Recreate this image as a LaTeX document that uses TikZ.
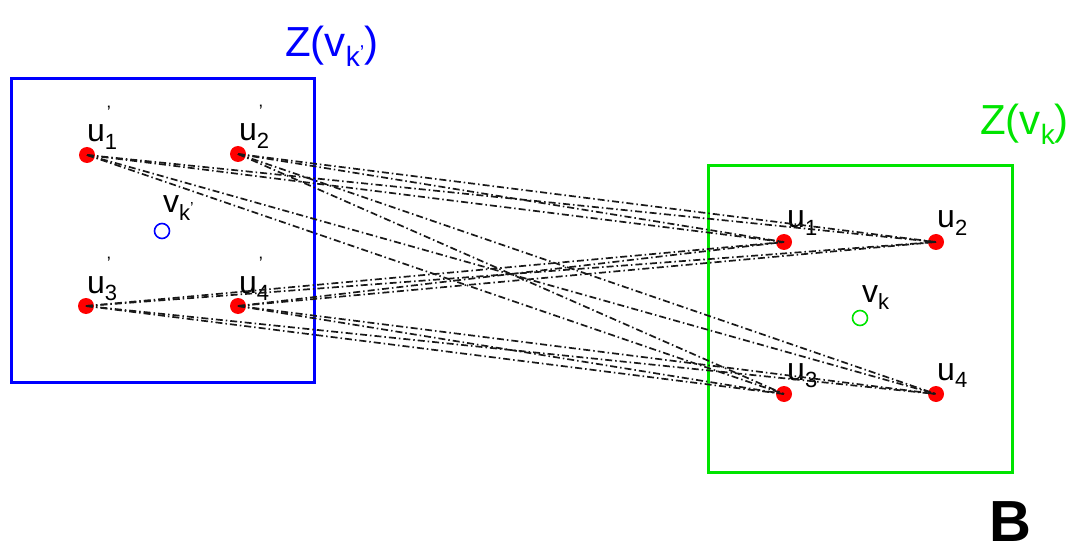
\documentclass[tikz,border=0pt]{standalone}
\usepackage{fontspec}
\setmainfont{Liberation Sans}
\definecolor{zgreen}{RGB}{0,228,0}
\definecolor{zblue}{RGB}{0,0,255}
% vertex label with a subscript
\newcommand\sublab[2]{#1\raisebox{-0.22em}{\fontsize{22}{22}\selectfont #2}}
% vertex label with a subscript and a prime set above it
\newcommand\primelab[2]{#1\makebox[0pt][l]{\raisebox{0.72em}{\fontsize{18}{18}\selectfont\hspace{0.1em}’}}\raisebox{-0.22em}{\fontsize{22}{22}\selectfont #2}}
\begin{document}
\begin{tikzpicture}[x=1pt,y=-1pt,
  vert/.style={circle,fill=red,inner sep=0pt,minimum size=16pt},
  hub/.style={circle,draw,line width=1.6pt,inner sep=0pt,minimum size=15pt},
  link/.style={line width=1.7pt,black!90,
    dash pattern=on 7pt off 3pt on 1.5pt off 3pt},
  zbox/.style={line width=3pt},
  lab/.style={anchor=base west,inner sep=0pt,font=\fontsize{32}{36}\selectfont},
  zlab/.style={anchor=base west,inner sep=0pt,font=\fontsize{42}{46}\selectfont}]
\useasboundingbox (0,0) rectangle (1071,548);

% the two zones
\draw[zbox,zblue] (11,79) rectangle (314,382);
\draw[zbox,zgreen] (708,166) rectangle (1012,472);
\node[zlab,text=zblue] (zl) at (285,57)
  {Z(v\raisebox{-0.22em}{\fontsize{28}{28}\selectfont k\raisebox{0.25em}{\fontsize{20}{20}\selectfont ’}})};
\node[zlab,text=zgreen] (zr) at (980,135)
  {Z(v\raisebox{-0.22em}{\fontsize{28}{28}\selectfont k})};

% vertices of the left zone
\node[vert] (a1) at (87,155) {};
\node[vert] (a2) at (238,154) {};
\node[vert] (a3) at (86,306) {};
\node[vert] (a4) at (238,306) {};
\node[hub,draw=zblue] (hl) at (162,231) {};

% vertices of the right zone
\node[vert] (b1) at (784,242) {};
\node[vert] (b2) at (936,242) {};
\node[vert] (b3) at (784,394) {};
\node[vert] (b4) at (936,394) {};
\node[hub,draw=zgreen] (hr) at (860,318) {};

% labels
\node[lab] (la1) at (87,142) {\primelab{u}{1}};
\node[lab] (la2) at (239,141) {\primelab{u}{2}};
\node[lab] (la3) at (87,293) {\primelab{u}{3}};
\node[lab] (la4) at (239,293) {\primelab{u}{4}};
\node[lab] (lhl) at (163,213)
  {v\raisebox{-0.22em}{\fontsize{22}{22}\selectfont k\raisebox{0.3em}{\fontsize{16}{16}\selectfont ’}}};
\node[lab] (lb1) at (787,228) {\sublab{u}{1}};
\node[lab] (lb2) at (937,228) {\sublab{u}{2}};
\node[lab] (lb3) at (787,380) {\sublab{u}{3}};
\node[lab] (lb4) at (937,380) {\sublab{u}{4}};
\node[lab] (lhr) at (862,302) {\sublab{v}{k}};

% every pairing between the two zones
\foreach \i in {1,...,4}
  \foreach \j in {1,...,4}
    \draw[link] (a\i.center) -- (b\j.center);

\node[anchor=base west,inner sep=0pt,font=\fontsize{58}{62}\selectfont\bfseries] (tag) at (989,541) {B};
\end{tikzpicture}
\end{document}
